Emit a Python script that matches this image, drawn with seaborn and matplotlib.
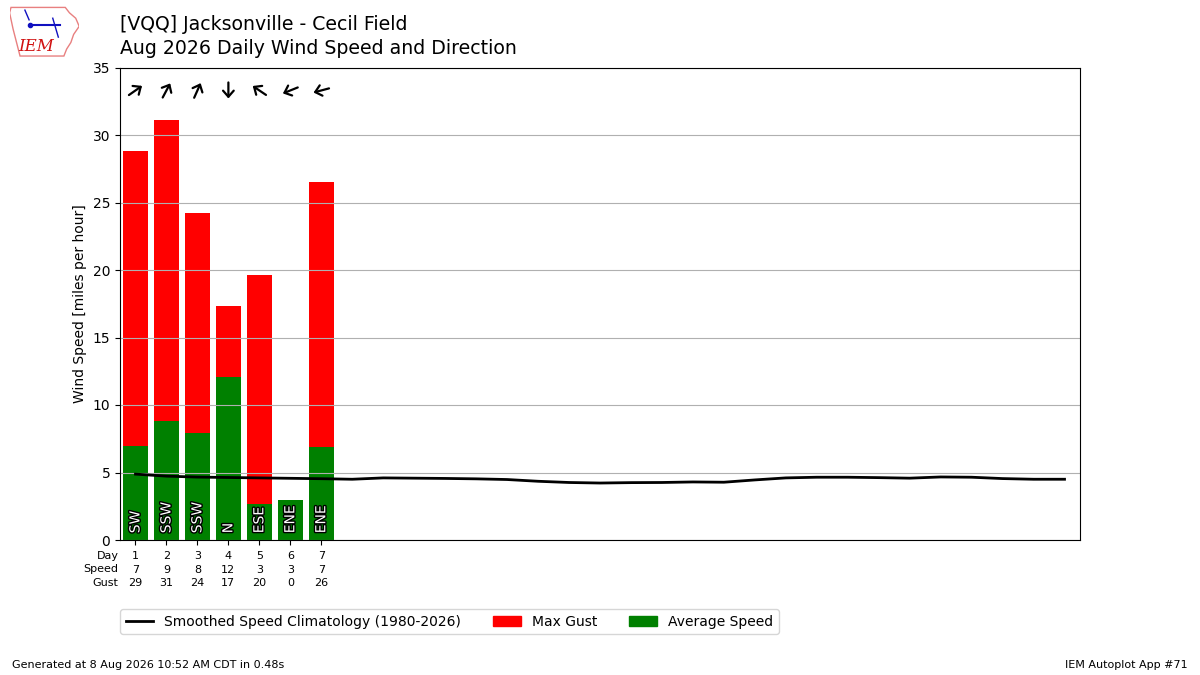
import numpy as np
import pandas as pd
import matplotlib
matplotlib.use("Agg")
import matplotlib.pyplot as plt
import matplotlib.patheffects as pe
from matplotlib.lines import Line2D
from matplotlib.patches import Patch, Polygon
from matplotlib.transforms import offset_copy
import seaborn as sns

# daily observations (Aug 2026, days 1-7)
days = [1, 2, 3, 4, 5, 6, 7]
avg_speed = [7.0, 8.8, 7.9, 12.1, 2.7, 3.0, 6.9]
max_gust = [28.8, 31.1, 24.2, 17.3, 19.6, 0.0, 26.5]
avg_drct = [235, 208, 204, 0, 124, 68, 75]
drct_text = ["SW", "SSW", "SSW", "N", "ESE", "ENE", "ENE"]

# smoothed climatology, days 1-31
clim_days = list(range(1, 32))
clim_speed = [4.88, 4.73, 4.66, 4.63, 4.60, 4.57, 4.54, 4.50, 4.60, 4.58,
              4.56, 4.53, 4.48, 4.35, 4.26, 4.22, 4.25, 4.26, 4.30, 4.28,
              4.45, 4.60, 4.65, 4.65, 4.62, 4.58, 4.67, 4.65, 4.55, 4.50,
              4.50]

df = pd.DataFrame({"day": days, "avg": avg_speed, "gust": max_gust})
clim = pd.DataFrame({"day": clim_days, "speed": clim_speed})

fig = plt.figure(figsize=(12, 6.75), dpi=100)
ax = fig.add_axes([0.1, 0.2, 0.8, 0.7])

sns.barplot(data=df, x="day", y="gust", native_scale=True, color="red",
            saturation=1, errorbar=None, linewidth=0, ax=ax)
sns.barplot(data=df, x="day", y="avg", native_scale=True, color="green",
            saturation=1, errorbar=None, linewidth=0, ax=ax)
sns.lineplot(data=clim, x="day", y="speed", color="k", lw=2, ax=ax)

# direction labels inside bars
for d, t in zip(days, drct_text):
    ax.text(d, 0.5, t, rotation=90, ha="center", va="bottom", fontsize=10,
            color="white",
            path_effects=[pe.withStroke(linewidth=2, foreground="k")])

# wind direction arrows (pointing where the wind blows to)
half = 8
for d, drct in zip(days, avg_drct):
    to = np.radians(drct + 180)
    hx, hy = half * np.sin(to), half * np.cos(to)
    ax.annotate("", xy=(d, 33.3), xytext=(d, 33.3),
                xycoords=offset_copy(ax.transData, fig=fig, x=hx, y=hy, units="dots"),
                textcoords=offset_copy(ax.transData, fig=fig, x=-hx, y=-hy, units="dots"),
                arrowprops=dict(arrowstyle="->,head_length=0.4,head_width=0.35",
                                mutation_scale=11, color="k", lw=1.6,
                                shrinkA=0, shrinkB=0))

ax.set_xlim(0.5, 31.5)
ax.set_ylim(0, 35)
ax.set_yticks(range(0, 36, 5))
ax.set_xticks(days)
ax.set_xticklabels([f"{d}\n{round(s)}\n{round(g)}"
                    for d, s, g in zip(days, avg_speed, max_gust)],
                   fontsize=8, linespacing=1.48)
ax.tick_params(axis="x", pad=4.2)
ax.set_xlabel("")
ax.set_ylabel("Wind Speed [miles per hour]")
ax.yaxis.grid(True)

ax.text(0.45, 0, "Day\nSpeed\nGust", ha="right", va="top", fontsize=8,
        multialignment="right", linespacing=1.48,
        transform=offset_copy(ax.get_xaxis_transform(), fig=fig, x=0, y=-10.6,
                              units="dots"))

handles = [Line2D([], [], color="k", lw=2),
           Patch(color="red"), Patch(color="green")]
labels = ["Smoothed Speed Climatology (1980-2026)", "Max Gust", "Average Speed"]
ax.legend(handles, labels, ncol=3, loc="upper left", borderaxespad=0,
          columnspacing=2.3, bbox_to_anchor=(0.0, -0.146), fontsize=10)

fig.text(0.1, 1 - 29.5 / 675, "[VQQ] Jacksonville - Cecil Field",
         va="baseline", fontsize=13.6)
fig.text(0.1, 1 - 53.5 / 675, "Aug 2026 Daily Wind Speed and Direction",
         va="baseline", fontsize=13.6)
fig.text(0.01, 0.015, "Generated at 8 Aug 2026 10:52 AM CDT in 0.48s",
         fontsize=8, va="center")
fig.text(0.99, 0.015, "IEM Autoplot App #71", fontsize=8, va="center",
         ha="right")

# rough IEM logo
lax = fig.add_axes([0.008, 0.913, 0.058, 0.08])
lax.set_xlim(0, 1)
lax.set_ylim(0, 1)
lax.axis("off")
iowa = [(0.02, 0.95), (0.8, 0.95), (0.86, 0.85), (0.95, 0.75), (1.0, 0.6),
        (0.92, 0.45), (0.88, 0.3), (0.82, 0.18), (0.78, 0.05), (0.15, 0.05),
        (0.1, 0.3), (0.05, 0.55), (0.0, 0.85)]
lax.add_patch(Polygon(iowa, closed=True, fill=False, ec="#e88080", lw=1))
lax.plot([0.3, 0.72], [0.62, 0.62], color="#1010c0", lw=1.5)
lax.plot([0.3], [0.62], "o", color="#1010c0", ms=3)
lax.plot([0.22, 0.28], [0.9, 0.72], color="#1010c0", lw=1)
lax.plot([0.62, 0.7], [0.75, 0.4], color="#1010c0", lw=1)
lax.text(0.12, 0.22, "IEM", color="#d01010", fontsize=12, style="italic",
         family="DejaVu Serif", va="center")

fig.savefig("out.png", dpi=100)
